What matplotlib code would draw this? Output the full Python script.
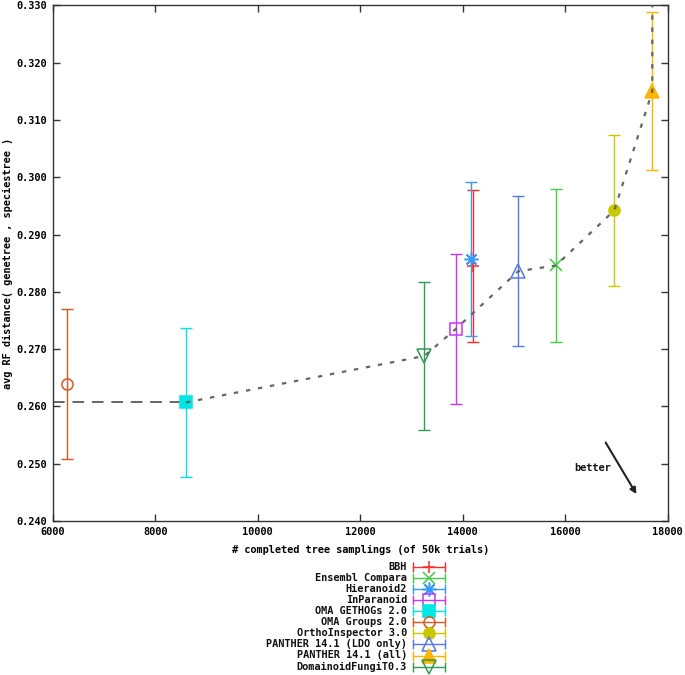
import numpy as np
import matplotlib
matplotlib.use("Agg")
import matplotlib.pyplot as plt

# methods, values
methods = ["BBH", "Ensembl Compara", "Hieranoid2", "InParanoid", "OMA GETHOGs 2.0",
           "OMA Groups 2.0", "OrthoInspector 3.0", "PANTHER 14.1 (LDO only)",
           "PANTHER 14.1 (all)", "DomainoidFungiT0.3"]
samplings = [14207, 15820, 14156, 13863, 8600, 6285, 16958, 15086, 17700, 13251]
rf_dist = [0.2845, 0.2846, 0.2857, 0.2735, 0.2607, 0.2639, 0.2942, 0.2836, 0.3150, 0.2688]
rf_err = [0.0132, 0.0133, 0.0134, 0.0131, 0.0130, 0.0131, 0.0132, 0.0131, 0.0138, 0.0130]

colors = ["#ff2a2a", "#44cc44", "#3399ff", "#cc33ff", "#00e6e6",
          "#dd5522", "#c8c800", "#5577ee", "#ffb400", "#339955"]
markers = ["+", "x", (8, 2, 0), "s", "s", "o", "o", "^", "^", "v"]
filled = [False, False, False, False, True, False, True, False, True, False]
msizes = [9, 8, 10, 8, 8, 8, 8, 10, 10, 10]

# methods on the pareto front (drawn as the dashed curve)
front = ["OMA GETHOGs 2.0", "DomainoidFungiT0.3", "InParanoid", "PANTHER 14.1 (LDO only)",
         "Ensembl Compara", "OrthoInspector 3.0", "PANTHER 14.1 (all)"]

mono = "DejaVu Sans Mono"
fs = 7.4
axcol = "#333333"

fig = plt.figure(figsize=(6.85, 6.75), dpi=100)
ax = fig.add_axes([0.0769, 0.2281, 0.8978, 0.7640])
ax.set_xlim(6000, 18000)
ax.set_ylim(0.240, 0.330)

# frontier line
fx = [samplings[methods.index(m)] for m in front]
fy = [rf_dist[methods.index(m)] for m in front]
x0, x1 = ax.get_xlim()
y0, y1 = ax.get_ylim()
ax.plot([x0, fx[0]], [fy[0], fy[0]], color="#666666", lw=1.4, dashes=(6, 4), zorder=1)
ax.plot(fx + [fx[-1]], fy + [y1], color="#666666", lw=1.6, dashes=(2, 3.5), zorder=4)

for i, m in enumerate(methods):
    c = colors[i]
    ax.errorbar(samplings[i], rf_dist[i], yerr=rf_err[i], fmt="none", ecolor=c,
                elinewidth=1, capsize=4, capthick=1, zorder=2)
    ax.plot(samplings[i], rf_dist[i], marker=markers[i], ms=msizes[i], color=c,
            mfc=c if filled[i] else "none", mec=c, mew=1.1, ls="none", zorder=3)

ax.set_xticks(np.arange(6000, 18001, 2000))
ax.set_yticks(np.arange(0.240, 0.3301, 0.010))
ax.yaxis.set_major_formatter(matplotlib.ticker.FormatStrFormatter("%.3f"))
ax.tick_params(direction="in", length=5, width=1, color=axcol, top=True, right=True,
               labelsize=fs, pad=4)
for lab in ax.get_xticklabels() + ax.get_yticklabels():
    lab.set_family(mono)
    lab.set_weight("bold")
for s in ax.spines.values():
    s.set_color(axcol)
    s.set_linewidth(1)

ax.set_xlabel("# completed tree samplings (of 50k trials)", family=mono,
              weight="bold", fontsize=fs, labelpad=6)
ax.set_ylabel("avg RF distance( genetree , speciestree )", family=mono,
              weight="bold", fontsize=fs, va="center")
ax.yaxis.set_label_coords(-0.072, 0.5)

# "better" annotation
ax.annotate("", xy=(17390, 0.2447), xytext=(16790, 0.2537),
            arrowprops=dict(arrowstyle="-|>", color="#222222", lw=1.5,
                            mutation_scale=9, shrinkA=0, shrinkB=0))
ax.text(16180, 0.2492, "better", family=mono, weight="bold", fontsize=fs,
        va="center", ha="left", color="#111111")

# gnuplot style key below the plot
lax = fig.add_axes([0.0, 0.0, 1.0, 1.0])
lax.set_xlim(0, 685)
lax.set_ylim(675, 0)
lax.axis("off")
row0, dy = 566.7, 11.1
for i, m in enumerate(methods):
    yy = row0 + i * dy
    c = colors[i]
    lax.text(407, yy, m, ha="right", va="center", family=mono, weight="bold",
             fontsize=fs, color="#111111")
    lax.plot([413, 445], [yy, yy], color=c, lw=1)
    lax.plot([413, 445], [yy, yy], color=c, ls="none", marker="|", ms=7, mew=1)
    lax.plot(429, yy, marker=markers[i], ms=msizes[i], color=c,
             mfc=c if filled[i] else "none", mec=c, mew=1.1, ls="none")

fig.savefig("out.png", dpi=100)
